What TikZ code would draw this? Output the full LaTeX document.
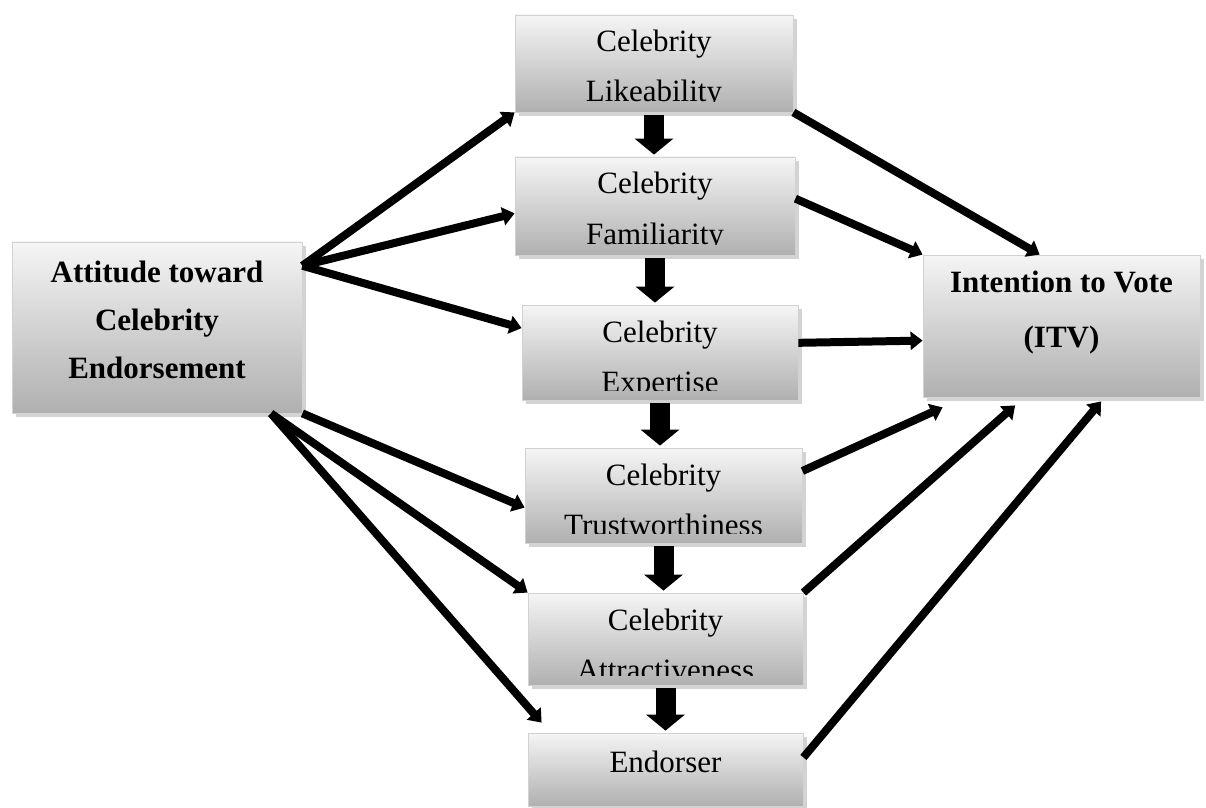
\documentclass[tikz,border=0pt]{standalone}
\usepackage{fontspec}
\setmainfont{Liberation Serif}
\usetikzlibrary{shadows,arrows.meta}

\tikzset{
  box/.style={rectangle, top color=gray!8, bottom color=gray!62, draw=gray!35,
    drop shadow={shadow xshift=2pt, shadow yshift=-2pt, opacity=.35},
    align=center, inner sep=0pt, font=\fontsize{15.5}{25}\selectfont},
  bigbox/.style={box, font=\fontsize{15.5}{24}\selectfont\bfseries},
  % text sits low and is cut off at the bottom of the frame
  midbox/.style={box, path picture={
      \clip ([yshift=5pt]path picture bounding box.south west) rectangle (path picture bounding box.north east);
      \node[anchor=base, align=center, inner sep=0pt, font=\fontsize{15.5}{25}\selectfont]
        at ([yshift=-43.5pt]path picture bounding box.north) {#1};}},
  textup/.style={execute at end node={\rule[-#1]{0pt}{0pt}}},
  link/.style={line width=4pt, -{Triangle[length=6pt,width=9pt]}},
  down/.style={line width=10pt, -{Triangle[length=8pt,width=19pt]}, shorten <=1.5pt, shorten >=1pt},
}

\begin{document}
\begin{tikzpicture}[x=0.5pt,y=-0.5pt]
  \useasboundingbox (0,0) rectangle (1206,808);

  \node[bigbox, textup=8pt, minimum width=145pt, minimum height=85.5pt] (attitude) at (157,327.5) {Attitude toward\\Celebrity\\Endorsement};
  \node[midbox={Celebrity\\Likeability}, minimum width=139pt, minimum height=48.5pt] (lik) at (654,63.5) {};
  \node[midbox={Celebrity\\Familiarity}, minimum width=140pt, minimum height=49pt] (fam) at (655,206) {};
  \node[midbox={Celebrity\\Expertise}, minimum width=138pt, minimum height=47.5pt] (exp) at (660,352.5) {};
  \node[midbox={Celebrity\\Trustworthiness}, minimum width=138.5pt, minimum height=47.5pt] (tru) at (663.5,495.5) {};
  \node[midbox={Celebrity\\Attractiveness}, minimum width=137.5pt, minimum height=46pt] (attr) at (665.5,639) {};
  \node[box, text height=19.5pt, text depth=17pt, minimum width=137.5pt] (endorser) at (665.5,769.5) {Endorser};
  \node[bigbox, textup=16.3pt, minimum width=138.5pt, minimum height=71pt, font=\fontsize{15.5}{27.5}\selectfont\bfseries] (itv) at (1061.5,326) {Intention to Vote\\(ITV)};

  % chain down the middle
  \draw[down] (lik.south) -- (lik.south |- fam.north);
  \draw[down] (fam.south) -- (fam.south |- exp.north);
  \draw[down] (exp.south) -- (exp.south |- tru.north);
  \draw[down] (tru.south) -- (tru.south |- attr.north);
  \draw[down] (attr.south) -- (attr.south |- endorser.north);

  % attitude to the six
  \draw[link] (attitude.23) -- (lik.south west);
  \draw[link] (attitude.23) -- (fam.183);
  \draw[link] (attitude.23) -- (exp.170);
  \draw[link] (attitude.south east) -- (tru.185);
  \draw[link] (attitude.-37) -- (attr.north west);
  \draw[link] (attitude.-37) -- ([xshift=7pt,yshift=5pt]endorser.north west);

  % the six to ITV
  \draw[link] (lik.south east) -- (itv.107);
  \draw[link] (fam.3) -- (itv.north west);
  \draw[link] (exp.4) -- (itv.186.5);
  \draw[link] (tru.10) -- ([xshift=10pt,yshift=-5pt]itv.south west);
  \draw[link] (attr.north east) -- ([yshift=-4pt]itv.237);
  \draw[link] (endorser.5) -- ([yshift=-2pt]itv.-61);
\end{tikzpicture}
\end{document}
